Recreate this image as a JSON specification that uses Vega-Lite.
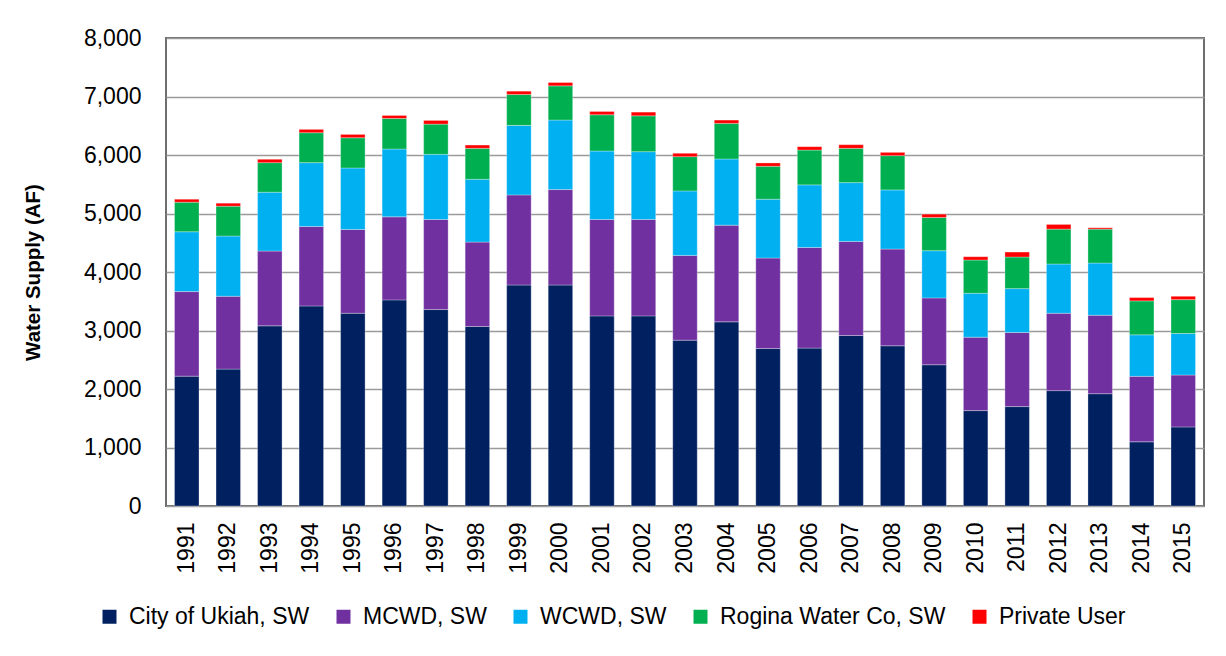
{
  "$schema": "https://vega.github.io/schema/vega-lite/v6.json",
  "autosize": {"type": "none"},
  "width": 1038,
  "height": 468,
  "padding": {"left": 166, "top": 38, "right": 22, "bottom": 150},
  "background": "white",
  "config": {
    "font": "Liberation Sans",
    "view": {"stroke": "#6e6e6e", "strokeWidth": 2}
  },
  "datasets": {
    "supply": [
      {"year": "1991", "source": "City of Ukiah, SW", "af": 2220}, {"year": "1991", "source": "MCWD, SW", "af": 1445}, {"year": "1991", "source": "WCWD, SW", "af": 1023}, {"year": "1991", "source": "Rogina Water Co, SW", "af": 505}, {"year": "1991", "source": "Private User", "af": 51},
      {"year": "1992", "source": "City of Ukiah, SW", "af": 2340}, {"year": "1992", "source": "MCWD, SW", "af": 1245}, {"year": "1992", "source": "WCWD, SW", "af": 1029}, {"year": "1992", "source": "Rogina Water Co, SW", "af": 511}, {"year": "1992", "source": "Private User", "af": 51},
      {"year": "1993", "source": "City of Ukiah, SW", "af": 3080}, {"year": "1993", "source": "MCWD, SW", "af": 1278}, {"year": "1993", "source": "WCWD, SW", "af": 1006}, {"year": "1993", "source": "Rogina Water Co, SW", "af": 505}, {"year": "1993", "source": "Private User", "af": 57},
      {"year": "1994", "source": "City of Ukiah, SW", "af": 3420}, {"year": "1994", "source": "MCWD, SW", "af": 1358}, {"year": "1994", "source": "WCWD, SW", "af": 1091}, {"year": "1994", "source": "Rogina Water Co, SW", "af": 512}, {"year": "1994", "source": "Private User", "af": 57},
      {"year": "1995", "source": "City of Ukiah, SW", "af": 3295}, {"year": "1995", "source": "MCWD, SW", "af": 1432}, {"year": "1995", "source": "WCWD, SW", "af": 1051}, {"year": "1995", "source": "Rogina Water Co, SW", "af": 517}, {"year": "1995", "source": "Private User", "af": 57},
      {"year": "1996", "source": "City of Ukiah, SW", "af": 3523}, {"year": "1996", "source": "MCWD, SW", "af": 1420}, {"year": "1996", "source": "WCWD, SW", "af": 1159}, {"year": "1996", "source": "Rogina Water Co, SW", "af": 523}, {"year": "1996", "source": "Private User", "af": 51},
      {"year": "1997", "source": "City of Ukiah, SW", "af": 3358}, {"year": "1997", "source": "MCWD, SW", "af": 1540}, {"year": "1997", "source": "WCWD, SW", "af": 1113}, {"year": "1997", "source": "Rogina Water Co, SW", "af": 517}, {"year": "1997", "source": "Private User", "af": 63},
      {"year": "1998", "source": "City of Ukiah, SW", "af": 3068}, {"year": "1998", "source": "MCWD, SW", "af": 1443}, {"year": "1998", "source": "WCWD, SW", "af": 1074}, {"year": "1998", "source": "Rogina Water Co, SW", "af": 529}, {"year": "1998", "source": "Private User", "af": 56},
      {"year": "1999", "source": "City of Ukiah, SW", "af": 3778}, {"year": "1999", "source": "MCWD, SW", "af": 1540}, {"year": "1999", "source": "WCWD, SW", "af": 1188}, {"year": "1999", "source": "Rogina Water Co, SW", "af": 528}, {"year": "1999", "source": "Private User", "af": 57},
      {"year": "2000", "source": "City of Ukiah, SW", "af": 3778}, {"year": "2000", "source": "MCWD, SW", "af": 1631}, {"year": "2000", "source": "WCWD, SW", "af": 1188}, {"year": "2000", "source": "Rogina Water Co, SW", "af": 585}, {"year": "2000", "source": "Private User", "af": 57},
      {"year": "2001", "source": "City of Ukiah, SW", "af": 3250}, {"year": "2001", "source": "MCWD, SW", "af": 1648}, {"year": "2001", "source": "WCWD, SW", "af": 1170}, {"year": "2001", "source": "Rogina Water Co, SW", "af": 620}, {"year": "2001", "source": "Private User", "af": 56},
      {"year": "2002", "source": "City of Ukiah, SW", "af": 3250}, {"year": "2002", "source": "MCWD, SW", "af": 1648}, {"year": "2002", "source": "WCWD, SW", "af": 1159}, {"year": "2002", "source": "Rogina Water Co, SW", "af": 613}, {"year": "2002", "source": "Private User", "af": 63},
      {"year": "2003", "source": "City of Ukiah, SW", "af": 2835}, {"year": "2003", "source": "MCWD, SW", "af": 1449}, {"year": "2003", "source": "WCWD, SW", "af": 1102}, {"year": "2003", "source": "Rogina Water Co, SW", "af": 586}, {"year": "2003", "source": "Private User", "af": 56},
      {"year": "2004", "source": "City of Ukiah, SW", "af": 3148}, {"year": "2004", "source": "MCWD, SW", "af": 1653}, {"year": "2004", "source": "WCWD, SW", "af": 1131}, {"year": "2004", "source": "Rogina Water Co, SW", "af": 608}, {"year": "2004", "source": "Private User", "af": 57},
      {"year": "2005", "source": "City of Ukiah, SW", "af": 2693}, {"year": "2005", "source": "MCWD, SW", "af": 1546}, {"year": "2005", "source": "WCWD, SW", "af": 1005}, {"year": "2005", "source": "Rogina Water Co, SW", "af": 563}, {"year": "2005", "source": "Private User", "af": 57},
      {"year": "2006", "source": "City of Ukiah, SW", "af": 2699}, {"year": "2006", "source": "MCWD, SW", "af": 1721}, {"year": "2006", "source": "WCWD, SW", "af": 1069}, {"year": "2006", "source": "Rogina Water Co, SW", "af": 596}, {"year": "2006", "source": "Private User", "af": 57},
      {"year": "2007", "source": "City of Ukiah, SW", "af": 2915}, {"year": "2007", "source": "MCWD, SW", "af": 1608}, {"year": "2007", "source": "WCWD, SW", "af": 1005}, {"year": "2007", "source": "Rogina Water Co, SW", "af": 586}, {"year": "2007", "source": "Private User", "af": 62},
      {"year": "2008", "source": "City of Ukiah, SW", "af": 2739}, {"year": "2008", "source": "MCWD, SW", "af": 1653}, {"year": "2008", "source": "WCWD, SW", "af": 1011}, {"year": "2008", "source": "Rogina Water Co, SW", "af": 586}, {"year": "2008", "source": "Private User", "af": 56},
      {"year": "2009", "source": "City of Ukiah, SW", "af": 2415}, {"year": "2009", "source": "MCWD, SW", "af": 1142}, {"year": "2009", "source": "WCWD, SW", "af": 807}, {"year": "2009", "source": "Rogina Water Co, SW", "af": 568}, {"year": "2009", "source": "Private User", "af": 57},
      {"year": "2010", "source": "City of Ukiah, SW", "af": 1631}, {"year": "2010", "source": "MCWD, SW", "af": 1255}, {"year": "2010", "source": "WCWD, SW", "af": 750}, {"year": "2010", "source": "Rogina Water Co, SW", "af": 569}, {"year": "2010", "source": "Private User", "af": 56},
      {"year": "2011", "source": "City of Ukiah, SW", "af": 1699}, {"year": "2011", "source": "MCWD, SW", "af": 1267}, {"year": "2011", "source": "WCWD, SW", "af": 750}, {"year": "2011", "source": "Rogina Water Co, SW", "af": 540}, {"year": "2011", "source": "Private User", "af": 85},
      {"year": "2012", "source": "City of Ukiah, SW", "af": 1972}, {"year": "2012", "source": "MCWD, SW", "af": 1323}, {"year": "2012", "source": "WCWD, SW", "af": 841}, {"year": "2012", "source": "Rogina Water Co, SW", "af": 597}, {"year": "2012", "source": "Private User", "af": 80},
      {"year": "2013", "source": "City of Ukiah, SW", "af": 1920}, {"year": "2013", "source": "MCWD, SW", "af": 1341}, {"year": "2013", "source": "WCWD, SW", "af": 892}, {"year": "2013", "source": "Rogina Water Co, SW", "af": 580}, {"year": "2013", "source": "Private User", "af": 23},
      {"year": "2014", "source": "City of Ukiah, SW", "af": 1097}, {"year": "2014", "source": "MCWD, SW", "af": 1119}, {"year": "2014", "source": "WCWD, SW", "af": 710}, {"year": "2014", "source": "Rogina Water Co, SW", "af": 580}, {"year": "2014", "source": "Private User", "af": 57},
      {"year": "2015", "source": "City of Ukiah, SW", "af": 1352}, {"year": "2015", "source": "MCWD, SW", "af": 887}, {"year": "2015", "source": "WCWD, SW", "af": 710}, {"year": "2015", "source": "Rogina Water Co, SW", "af": 579}, {"year": "2015", "source": "Private User", "af": 57}
    ]
  },
  "data": {"name": "supply"},
  "transform": [
    {"calculate": "indexof(['City of Ukiah, SW', 'MCWD, SW', 'WCWD, SW', 'Rogina Water Co, SW', 'Private User'], datum.source)", "as": "series_order"}
  ],
  "mark": {"type": "bar", "stroke": "#ffffff", "strokeWidth": 0.6, "strokeOpacity": 0.5},
  "encoding": {
    "x": {
      "field": "year",
      "type": "ordinal",
      "scale": {"paddingInner": 0.41, "paddingOuter": 0.205},
      "axis": {
        "title": null,
        "labelAngle": -90,
        "labelFontSize": 23,
        "labelColor": "#000000",
        "labelPadding": 16,
        "ticks": false,
        "domain": false
      }
    },
    "y": {
      "field": "af",
      "type": "quantitative",
      "stack": "zero",
      "scale": {"domain": [0, 8000], "nice": false},
      "axis": {
        "title": "Water Supply (AF)",
        "titleFontSize": 20.5,
        "titleFontWeight": "bold",
        "titleColor": "#000000",
        "titleX": -133,
        "titleY": 234,
        "titleAlign": "center",
        "titleBaseline": "middle",
        "titleAngle": -90,
        "values": [0, 1000, 2000, 3000, 4000, 5000, 6000, 7000, 8000],
        "format": ",.0f",
        "labelFontSize": 23,
        "labelColor": "#000000",
        "labelPadding": 25,
        "ticks": false,
        "domain": false,
        "grid": true,
        "gridColor": "#9a9a9a",
        "gridWidth": 1.6
      }
    },
    "color": {
      "field": "source",
      "type": "nominal",
      "sort": ["City of Ukiah, SW", "MCWD, SW", "WCWD, SW", "Rogina Water Co, SW", "Private User"],
      "scale": {
        "domain": ["City of Ukiah, SW", "MCWD, SW", "WCWD, SW", "Rogina Water Co, SW", "Private User"],
        "range": ["#002060", "#7030A0", "#00B0F0", "#00B050", "#FF0000"]
      },
      "legend": {
        "title": null,
        "orient": "none",
        "direction": "horizontal",
        "legendX": -68,
        "legendY": 567,
        "padding": 0,
        "symbolType": "square",
        "symbolSize": 196,
        "symbolStrokeWidth": 0,
        "symbolOpacity": 1,
        "labelFontSize": 23,
        "labelColor": "#000000",
        "labelOffset": 8,
        "columnPadding": 22,
        "labelLimit": 400
      }
    },
    "order": {"field": "series_order", "type": "quantitative", "sort": "ascending"}
  }
}
